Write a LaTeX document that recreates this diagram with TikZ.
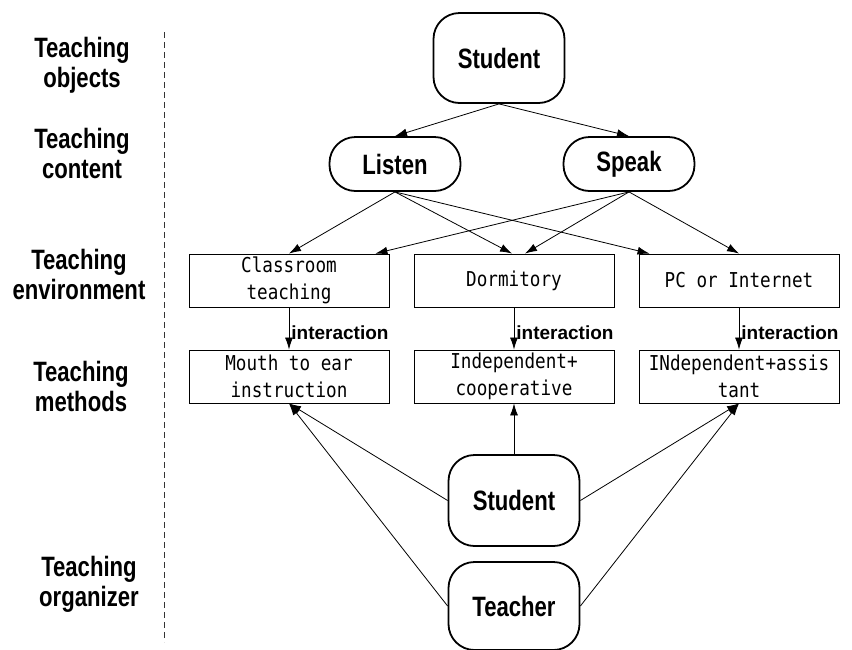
\documentclass[tikz,border=0pt]{standalone}
\usepackage{fontspec}
\newfontfamily\headfont{Liberation Sans}[FakeStretch=0.79]
\newfontfamily\tagfont{Liberation Sans}
\newfontfamily\boxfont{DejaVu Sans Mono}[FakeStretch=0.86]
\usetikzlibrary{arrows.meta}

\tikzset{
  rowlabel/.style={align=center, inner sep=0pt, font=\headfont\bfseries\fontsize{28}{30}\selectfont},
  roundbox/.style={draw, line width=1.8pt, rounded corners=26pt, minimum width=131pt, inner sep=0pt, font=\headfont\bfseries\fontsize{28}{30}\selectfont},
  placebox/.style={draw, line width=0.9pt, minimum width=200pt, minimum height=53pt, align=center, inner sep=0pt, font=\boxfont\fontsize{20.5}{27}\selectfont},
  link/.style={line width=0.8pt, -{Latex[length=12pt,width=8pt]}},
  tag/.style={right, inner sep=2pt, font=\tagfont\bfseries\fontsize{19}{21}\selectfont}
}

\begin{document}
\begin{tikzpicture}[x=1pt, y=-1pt]

    % Fix the page to the size of the picture
    \useasboundingbox (0,0) rectangle (852,649);

    % Row labels on the left side
    \node[rowlabel] (objects) at (82,65) {Teaching\\objects};
    \node[rowlabel] (content) at (82,153) {Teaching\\content};
    \node[rowlabel] (environment) at (79,274) {Teaching\\environment};
    \node[rowlabel] (methods) at (81,386) {Teaching\\methods};
    \node[rowlabel] (organizer) at (89,584) {Teaching\\organizer};

    % Dashed separator between the labels and the diagram
    \draw[line width=0.9pt, dash pattern=on 6pt off 4pt, black!80] (164,32) -- (164,642);

    % Teaching object and content
    \node[roundbox, minimum height=90pt] (student) at (499,58) {Student};
    \node[roundbox, minimum height=54pt] (listen) at (395,164) {Listen};
    \node[roundbox, minimum height=54pt] (speak) at (629,164) {Speak};

    % Teaching environment boxes
    \node[placebox] (env1) at (289,280.5) {Classroom\\teaching};
    \node[placebox] (env2) at (514,280.5) {Dormitory};
    \node[placebox] (env3) at (739,280.5) {PC or Internet};

    % Teaching method boxes
    \node[placebox] (meth1) at (289,376.5) {Mouth to ear\\instruction};
    \node[placebox] (meth2) at (514,376.5) {Independent+\\cooperative};
    \node[placebox] (meth3) at (739,376.5) {INdependent+assis\\tant};

    % Teaching organizers at the bottom
    \node[roundbox, minimum height=91pt] (learner) at (514,500.5) {Student};
    \node[roundbox, minimum height=88pt] (teacher) at (514,606) {Teacher};

    % Student splits into listening and speaking
    \draw[link] (student.south) -- (listen.north);
    \draw[link] (student.south) -- (speak.north);

    % Listening and speaking lead to every environment
    \draw[link] (listen.south) -- (env1.north);
    \draw[link] (listen.south) -- ([xshift=-2pt]env2.north);
    \draw[link] (listen.south) -- ([xshift=11pt]env3.north west);
    \draw[link] (speak.south) -- ([xshift=-14pt]env1.north east);
    \draw[link] (speak.south) -- ([xshift=11pt]env2.north);
    \draw[link] (speak.south) -- (env3.north);

    % Each environment goes with its method
    \foreach \i in {1,2,3}
        \draw[link] (env\i.south) -- node[tag, yshift=-4pt] {interaction} (meth\i.north);

    % Organizers point up to the methods
    \draw[link] (learner.north) -- (meth2.south);
    \draw[link] (learner.west) -- (meth1.south);
    \draw[link] (teacher.west) -- (meth1.south);
    \draw[link] (learner.east) -- (meth3.south);
    \draw[link] (teacher.east) -- (meth3.south);

\end{tikzpicture}
\end{document}
